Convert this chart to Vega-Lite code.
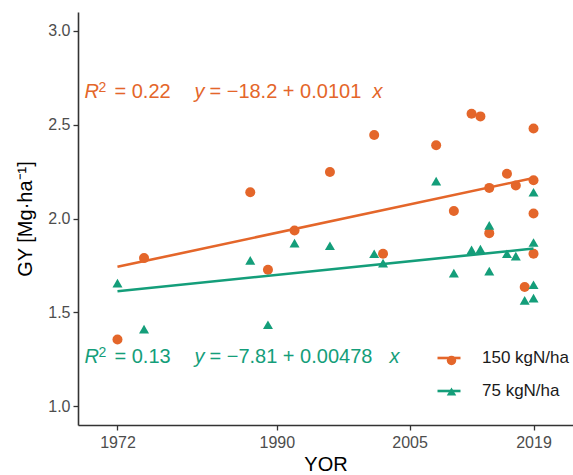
{
  "$schema": "https://vega.github.io/schema/vega-lite/v6.json",
  "width": 495,
  "height": 413,
  "autosize": {"type": "none"},
  "padding": {"left": 78, "top": 12, "right": 0, "bottom": 50},
  "background": "white",
  "config": {
    "view": {"stroke": null},
    "font": "Liberation Sans",
    "axis": {
      "grid": false,
      "domainColor": "#333333",
      "domainWidth": 1.6,
      "tickColor": "#333333",
      "tickWidth": 1.3,
      "tickSize": 5,
      "labelColor": "#4d4d4d",
      "labelFontSize": 16,
      "labelFont": "Liberation Sans",
      "titleFont": "Liberation Sans",
      "titleFontSize": 20,
      "titleFontWeight": "normal",
      "titleColor": "#000000"
    }
  },
  "datasets": {
    "obs": [
      {"YOR": 1972, "GY": 1.355, "N": "150 kgN/ha"},
      {"YOR": 1975, "GY": 1.789, "N": "150 kgN/ha"},
      {"YOR": 1987, "GY": 2.14, "N": "150 kgN/ha"},
      {"YOR": 1989, "GY": 1.727, "N": "150 kgN/ha"},
      {"YOR": 1992, "GY": 1.936, "N": "150 kgN/ha"},
      {"YOR": 1996, "GY": 2.248, "N": "150 kgN/ha"},
      {"YOR": 2001, "GY": 2.445, "N": "150 kgN/ha"},
      {"YOR": 2002, "GY": 1.812, "N": "150 kgN/ha"},
      {"YOR": 2008, "GY": 2.39, "N": "150 kgN/ha"},
      {"YOR": 2010, "GY": 2.04, "N": "150 kgN/ha"},
      {"YOR": 2012, "GY": 2.558, "N": "150 kgN/ha"},
      {"YOR": 2013, "GY": 2.544, "N": "150 kgN/ha"},
      {"YOR": 2014, "GY": 2.163, "N": "150 kgN/ha"},
      {"YOR": 2014, "GY": 1.922, "N": "150 kgN/ha"},
      {"YOR": 2016, "GY": 2.238, "N": "150 kgN/ha"},
      {"YOR": 2017, "GY": 2.176, "N": "150 kgN/ha"},
      {"YOR": 2018, "GY": 1.635, "N": "150 kgN/ha"},
      {"YOR": 2019, "GY": 2.479, "N": "150 kgN/ha"},
      {"YOR": 2019, "GY": 2.204, "N": "150 kgN/ha"},
      {"YOR": 2019, "GY": 2.027, "N": "150 kgN/ha"},
      {"YOR": 2019, "GY": 1.812, "N": "150 kgN/ha"},
      {"YOR": 1972, "GY": 1.656, "N": "75 kgN/ha"},
      {"YOR": 1975, "GY": 1.411, "N": "75 kgN/ha"},
      {"YOR": 1987, "GY": 1.777, "N": "75 kgN/ha"},
      {"YOR": 1989, "GY": 1.434, "N": "75 kgN/ha"},
      {"YOR": 1992, "GY": 1.869, "N": "75 kgN/ha"},
      {"YOR": 1996, "GY": 1.855, "N": "75 kgN/ha"},
      {"YOR": 2001, "GY": 1.812, "N": "75 kgN/ha"},
      {"YOR": 2002, "GY": 1.762, "N": "75 kgN/ha"},
      {"YOR": 2008, "GY": 2.199, "N": "75 kgN/ha"},
      {"YOR": 2010, "GY": 1.709, "N": "75 kgN/ha"},
      {"YOR": 2012, "GY": 1.833, "N": "75 kgN/ha"},
      {"YOR": 2013, "GY": 1.837, "N": "75 kgN/ha"},
      {"YOR": 2014, "GY": 1.963, "N": "75 kgN/ha"},
      {"YOR": 2014, "GY": 1.72, "N": "75 kgN/ha"},
      {"YOR": 2016, "GY": 1.812, "N": "75 kgN/ha"},
      {"YOR": 2017, "GY": 1.8, "N": "75 kgN/ha"},
      {"YOR": 2018, "GY": 1.564, "N": "75 kgN/ha"},
      {"YOR": 2019, "GY": 2.14, "N": "75 kgN/ha"},
      {"YOR": 2019, "GY": 1.872, "N": "75 kgN/ha"},
      {"YOR": 2019, "GY": 1.647, "N": "75 kgN/ha"},
      {"YOR": 2019, "GY": 1.576, "N": "75 kgN/ha"}
    ],
    "eq150": [{"R": "R", "sup": "2", "r2": "= 0.22", "yv": "y", "eq": "= −18.2 + 0.0101", "xv": "x"}],
    "eq75": [{"R": "R", "sup": "2", "r2": "= 0.13", "yv": "y", "eq": "= −7.81 + 0.00478", "xv": "x"}]
  },
  "layer": [
    {
      "data": {"name": "obs"},
      "mark": {"type": "point", "filled": true, "opacity": 1, "size": 100},
      "encoding": {
        "x": {
          "field": "YOR",
          "type": "quantitative",
          "scale": {"domain": [1967.54, 2023.46], "nice": false, "zero": false},
          "axis": {"values": [1972, 1990, 2005, 2019], "format": "d", "title": "YOR", "labelPadding": 4, "titlePadding": 4}
        },
        "y": {
          "field": "GY",
          "type": "quantitative",
          "scale": {"domain": [0.9, 3.1], "nice": false, "zero": false},
          "axis": {"values": [1.0, 1.5, 2.0, 2.5, 3.0], "format": ".1f", "title": "GY [Mg·ha⁻¹]", "labelPadding": 3, "titlePadding": 12}
        },
        "fill": {
          "field": "N",
          "type": "nominal",
          "scale": {"range": ["#E4662A", "#149E7A"]},
          "legend": {
            "title": null,
            "orient": "none",
            "legendX": 365,
            "legendY": 340,
            "padding": 0,
            "rowPadding": 13,
            "symbolSize": 90,
            "symbolStrokeWidth": 0,
            "labelOffset": 27,
            "labelFontSize": 17,
            "labelOpacity": 0
          }
        },
        "shape": {
          "field": "N",
          "type": "nominal",
          "scale": {"range": ["circle", "triangle-up"]},
          "legend": {
            "title": null,
            "orient": "none",
            "legendX": 365,
            "legendY": 340,
            "padding": 0,
            "rowPadding": 13,
            "symbolSize": 90,
            "symbolStrokeWidth": 0,
            "labelOffset": 27,
            "labelFontSize": 17,
            "labelOpacity": 0
          }
        }
      }
    },
    {
      "data": {"name": "obs"},
      "transform": [{"regression": "GY", "on": "YOR", "groupby": ["N"]}],
      "mark": {"type": "line", "strokeWidth": 2.6},
      "encoding": {
        "x": {"field": "YOR", "type": "quantitative"},
        "y": {"field": "GY", "type": "quantitative"},
        "stroke": {
          "field": "N",
          "type": "nominal",
          "scale": {"domain": ["150 kgN/ha", "75 kgN/ha"], "range": ["#E4662A", "#149E7A"]},
          "legend": {
            "title": null,
            "orient": "none",
            "legendX": 358,
            "legendY": 333,
            "padding": 0,
            "rowPadding": 12,
            "symbolType": "stroke",
            "symbolSize": 529,
            "symbolStrokeWidth": 2.6,
            "labelOffset": 20,
            "labelFontSize": 17,
            "labelColor": "#1a1a1a",
            "labelFont": "Liberation Sans"
          }
        }
      }
    },
    {"data": {"name": "eq150"}, "mark": {"type": "text", "fontStyle": "italic", "fontSize": 20, "align": "left", "baseline": "alphabetic", "color": "#E4662A", "dx": 0}, "encoding": {"text": {"field": "R"}, "x": {"datum": 1968.27}, "y": {"datum": 2.642}}},
    {"data": {"name": "eq150"}, "mark": {"type": "text", "fontSize": 14, "align": "left", "baseline": "alphabetic", "color": "#E4662A", "dx": 14, "dy": -6}, "encoding": {"text": {"field": "sup"}, "x": {"datum": 1968.27}, "y": {"datum": 2.642}}},
    {"data": {"name": "eq150"}, "mark": {"type": "text", "fontSize": 20, "align": "left", "baseline": "alphabetic", "color": "#E4662A", "dx": 30}, "encoding": {"text": {"field": "r2"}, "x": {"datum": 1968.27}, "y": {"datum": 2.642}}},
    {"data": {"name": "eq150"}, "mark": {"type": "text", "fontStyle": "italic", "fontSize": 20, "align": "left", "baseline": "alphabetic", "color": "#E4662A", "dx": 110}, "encoding": {"text": {"field": "yv"}, "x": {"datum": 1968.27}, "y": {"datum": 2.642}}},
    {"data": {"name": "eq150"}, "mark": {"type": "text", "fontSize": 20, "align": "left", "baseline": "alphabetic", "color": "#E4662A", "dx": 125}, "encoding": {"text": {"field": "eq"}, "x": {"datum": 1968.27}, "y": {"datum": 2.642}}},
    {"data": {"name": "eq150"}, "mark": {"type": "text", "fontStyle": "italic", "fontSize": 20, "align": "left", "baseline": "alphabetic", "color": "#E4662A", "dx": 288}, "encoding": {"text": {"field": "xv"}, "x": {"datum": 1968.27}, "y": {"datum": 2.642}}},
    {"data": {"name": "eq75"}, "mark": {"type": "text", "fontStyle": "italic", "fontSize": 20, "align": "left", "baseline": "alphabetic", "color": "#149E7A", "dx": 0}, "encoding": {"text": {"field": "R"}, "x": {"datum": 1968.27}, "y": {"datum": 1.231}}},
    {"data": {"name": "eq75"}, "mark": {"type": "text", "fontSize": 14, "align": "left", "baseline": "alphabetic", "color": "#149E7A", "dx": 14, "dy": -6}, "encoding": {"text": {"field": "sup"}, "x": {"datum": 1968.27}, "y": {"datum": 1.231}}},
    {"data": {"name": "eq75"}, "mark": {"type": "text", "fontSize": 20, "align": "left", "baseline": "alphabetic", "color": "#149E7A", "dx": 30}, "encoding": {"text": {"field": "r2"}, "x": {"datum": 1968.27}, "y": {"datum": 1.231}}},
    {"data": {"name": "eq75"}, "mark": {"type": "text", "fontStyle": "italic", "fontSize": 20, "align": "left", "baseline": "alphabetic", "color": "#149E7A", "dx": 110}, "encoding": {"text": {"field": "yv"}, "x": {"datum": 1968.27}, "y": {"datum": 1.231}}},
    {"data": {"name": "eq75"}, "mark": {"type": "text", "fontSize": 20, "align": "left", "baseline": "alphabetic", "color": "#149E7A", "dx": 125}, "encoding": {"text": {"field": "eq"}, "x": {"datum": 1968.27}, "y": {"datum": 1.231}}},
    {"data": {"name": "eq75"}, "mark": {"type": "text", "fontStyle": "italic", "fontSize": 20, "align": "left", "baseline": "alphabetic", "color": "#149E7A", "dx": 305}, "encoding": {"text": {"field": "xv"}, "x": {"datum": 1968.27}, "y": {"datum": 1.231}}}
  ]
}
